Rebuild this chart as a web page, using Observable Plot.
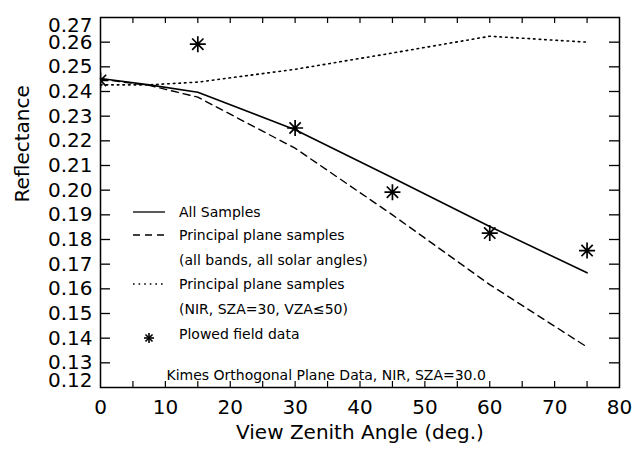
<!DOCTYPE html>
<html>
<head>
<meta charset="utf-8">
<script src="https://cdn.jsdelivr.net/npm/d3@7"></script>
<script src="https://cdn.jsdelivr.net/npm/@observablehq/plot@0.6"></script>
<style>
  html, body { margin: 0; padding: 0; background: #fff; }
  svg { display: block; }
</style>
</head>
<body>
<div id="chart"></div>
<script>
// View zenith angles (deg.)
const angles = [0, 7.5, 15, 30, 45, 60, 75];
// Modelled reflectance curves
const allSamples = [0.2453, 0.2427, 0.2397, 0.2245, 0.2050, 0.1853, 0.1665];
const principalAll = [0.2450, 0.2425, 0.2377, 0.2170, 0.1900, 0.1617, 0.1364];
const principalNir = [0.2427, 0.2427, 0.2438, 0.2490, 0.2556, 0.2624, 0.2600];
// Plowed field measurements
const fieldAngles = [0, 15, 30, 45, 60, 75];
const fieldValues = [0.2445, 0.2592, 0.2252, 0.1992, 0.1826, 0.1755];
// Axis ticks
const xLabels = [0, 10, 20, 30, 40, 50, 60, 70, 80];
const xMinor = d3.range(0, 81, 5);
const yLabels = [0.12, 0.13, 0.14, 0.15, 0.16, 0.17, 0.18, 0.19, 0.20, 0.21, 0.22, 0.23, 0.24, 0.25, 0.26, 0.27];
// Legend entries
const legendRows = [
  {label: "All Samples", kind: "solid"},
  {label: "Principal plane samples", kind: "dashed"},
  {label: "(all bands, all solar angles)", kind: "none"},
  {label: "Principal plane samples", kind: "dotted"},
  {label: "(NIR, SZA=30, VZA≤50)", kind: "none"},
  {label: "Plowed field data", kind: "star"}
];
const note = "Kimes Orthogonal Plane Data, NIR, SZA=30.0";

const series = (ys) => angles.map((a, i) => ({x: a, y: ys[i]}));
const field = fieldAngles.map((a, i) => ({x: a, y: fieldValues[i]}));

const W = 634, H = 450;
const mTop = 17, mBottom = 63, mLeft = 100, mRight = 15;
const innerW = W - mLeft - mRight, innerH = H - mTop - mBottom;
const font = "DejaVu Sans, sans-serif";
const dashStyle = {solid: null, dashed: "7,5", dotted: "1.6,4"};

// Eight-armed asterisk: vertical, horizontal and both diagonals
const star8 = {
  draw(context, size) {
    const r = Math.sqrt(size / Math.PI), d = r * Math.SQRT1_2;
    context.moveTo(0, -r); context.lineTo(0, r);
    context.moveTo(-r, 0); context.lineTo(r, 0);
    context.moveTo(-d, -d); context.lineTo(d, d);
    context.moveTo(-d, d); context.lineTo(d, -d);
  }
};

// Legend drawn in frame pixel space
function legend(index, scales, values, dims) {
  const g = d3.create("svg:g")
    .attr("font-family", font).attr("font-size", 14)
    .attr("text-anchor", "start").attr("fill", "#000");
  const x0 = dims.marginLeft + 33, x1 = dims.marginLeft + 65, tx = dims.marginLeft + 79;
  const rowY = [212, 235, 260, 284, 309, 334];
  legendRows.forEach((r, i) => {
    const y = rowY[i];
    if (r.kind === "solid" || r.kind === "dashed" || r.kind === "dotted") {
      g.append("line").attr("x1", x0).attr("x2", x1).attr("y1", y).attr("y2", y)
        .attr("stroke", "#000").attr("stroke-width", r.kind === "solid" ? 1.3 : 1.4)
        .attr("stroke-dasharray", dashStyle[r.kind]);
    } else if (r.kind === "star") {
      const cx = (x0 + x1) / 2, cy = y + 4, s = 5;
      for (const ang of [0, 45, 90, 135]) {
        const t = ang * Math.PI / 180;
        g.append("line").attr("x1", cx - s * Math.sin(t)).attr("y1", cy - s * Math.cos(t))
          .attr("x2", cx + s * Math.sin(t)).attr("y2", cy + s * Math.cos(t))
          .attr("stroke", "#000").attr("stroke-width", 1.6);
      }
    }
    g.append("text").attr("x", tx).attr("y", y).attr("dy", "0.35em")
      .attr("text-anchor", "start").text(r.label);
  });
  return g.node();
}

const chart = Plot.plot({
  width: W, height: H,
  marginTop: mTop, marginBottom: mBottom, marginLeft: mLeft, marginRight: mRight,
  style: {fontFamily: font, background: "#fff", color: "#000"},
  x: {domain: [0, 80], axis: null},
  y: {domain: [0.12, 0.27], axis: null},
  marks: [
    // inward ticks on all four sides
    Plot.tickY(yLabels.slice(1, -1), {y: d => d, insetRight: innerW - 10, stroke: "#000", strokeWidth: 1.3}),
    Plot.tickY(yLabels.slice(1, -1), {y: d => d, insetLeft: innerW - 10, stroke: "#000", strokeWidth: 1.3}),
    Plot.tickX(xMinor.slice(1, -1), {x: d => d, insetBottom: innerH - 6, stroke: "#000", strokeWidth: 1.2}),
    Plot.tickX(xMinor.slice(1, -1), {x: d => d, insetTop: innerH - 6, stroke: "#000", strokeWidth: 1.2}),
    // tick labels (the two end labels are nudged inside the frame's height)
    Plot.text(yLabels.slice(1, -1), {y: d => d, text: d => d.toFixed(2), frameAnchor: "left", dx: -8, textAnchor: "end", fontSize: 20}),
    Plot.text([yLabels[yLabels.length - 1]], {y: d => d, text: d => d.toFixed(2), frameAnchor: "left", dx: -8, dy: 8, textAnchor: "end", fontSize: 20}),
    Plot.text([yLabels[0]], {y: d => d, text: d => d.toFixed(2), frameAnchor: "left", dx: -8, dy: -7, textAnchor: "end", fontSize: 20}),
    Plot.text(xLabels, {x: d => d, text: d => String(d), frameAnchor: "bottom", dy: 26, fontSize: 20}),
    // axis titles
    Plot.text(["View Zenith Angle (deg.)"], {text: d => d, frameAnchor: "bottom", dy: 51, fontSize: 20}),
    Plot.text(["Reflectance"], {text: d => d, frameAnchor: "left", dx: -78, rotate: -90, fontSize: 20}),
    // curves
    Plot.line(series(allSamples), {x: "x", y: "y", stroke: "#000", strokeWidth: 1.6}),
    Plot.line(series(principalAll), {x: "x", y: "y", stroke: "#000", strokeWidth: 1.4, strokeDasharray: dashStyle.dashed}),
    Plot.line(series(principalNir), {x: "x", y: "y", stroke: "#000", strokeWidth: 1.6, strokeDasharray: dashStyle.dotted}),
    // field data
    Plot.dot(field, {x: "x", y: "y", symbol: star8, r: 8, stroke: "#000", strokeWidth: 1.7, clip: true}),
    // legend and annotation
    legend,
    Plot.text([note], {text: d => d, frameAnchor: "bottom-left", dx: 66, dy: -8, textAnchor: "start", fontSize: 14}),
    Plot.frame({stroke: "#000", strokeWidth: 1.5})
  ]
});
document.getElementById("chart").append(chart);
</script>
</body>
</html>
